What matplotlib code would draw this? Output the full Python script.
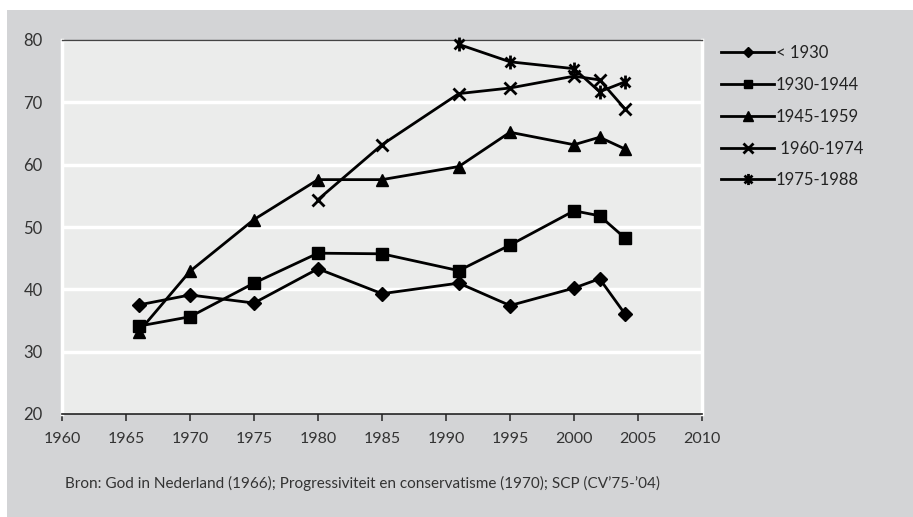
import numpy as np
import matplotlib.pyplot as plt
from matplotlib.patches import Rectangle
from matplotlib.path import Path

years = [1966, 1970, 1975, 1980, 1985, 1991, 1995, 2000, 2002, 2004]
nan = np.nan

voor_1930 = [37.5, 39.1, 37.8, 43.3, 39.3, 41.0, 37.4, 40.2, 41.7, 36.0]
c1930_1944 = [34.1, 35.6, 41.0, 45.8, 45.7, 43.0, 47.1, 52.6, 51.8, 48.2]
c1945_1959 = [33.2, 42.9, 51.2, 57.6, 57.6, 59.7, 65.2, 63.2, 64.4, 62.5]
c1960_1974 = [nan, nan, nan, 54.4, 63.2, 71.4, 72.3, 74.2, 73.6, 68.9]
c1975_1988 = [nan, nan, nan, nan, nan, 79.3, 76.5, 75.4, 71.7, 73.3]

labels = ["< 1930", "1930-1944", "1945-1959", " 1960-1974", "1975-1988"]
bron = "Bron: God in Nederland (1966); Progressiviteit en conservatisme (1970); SCP (CV\u201975-\u201904)"

# x plus vertical bar, like the excel star marker
star = Path([(-1, -1), (1, 1), (-1, 1), (1, -1), (0, -1.4), (0, 1.4)],
            [Path.MOVETO, Path.LINETO, Path.MOVETO, Path.LINETO, Path.MOVETO, Path.LINETO])

plt.rcParams['font.family'] = ['Lato', 'DejaVu Sans']

fig = plt.figure(figsize=(9.13, 5.17), dpi=100, facecolor='white')
fig.patches.append(Rectangle((7 / 913, 0), 1, 1 - 10 / 517, transform=fig.transFigure,
                             facecolor='#d3d4d6', edgecolor='none', zorder=-10))

ax = fig.add_axes([62 / 913, 103 / 517, 640 / 913, 374 / 517])
ax.set_facecolor('#ebeceb')

series = [voor_1930, c1930_1944, c1945_1959, c1960_1974, c1975_1988]
markers = ['D', 's', '^', 'x', star]
sizes = [7, 8, 9, 9, 10]
for vals, m, s, lab in zip(series, markers, sizes, labels):
    ax.plot(years, vals, color='black', lw=2, marker=m, markersize=s, mew=2 if m in ('x', star) else 1,
            label=lab, clip_on=False, zorder=3)

ax.set_xlim(1960, 2010)
ax.set_ylim(20, 80)
ax.set_xticks(range(1960, 2011, 5))
ax.set_yticks(range(20, 81, 10))
ax.yaxis.grid(True, color='white', lw=2.5)
ax.set_axisbelow(True)
ax.spines['top'].set_color('#444444')
ax.spines['top'].set_linewidth(1)
ax.spines['left'].set_color('white')
ax.spines['left'].set_linewidth(2.5)
ax.spines['right'].set_color('white')
ax.spines['right'].set_linewidth(2.5)
ax.spines['bottom'].set_color('#222222')
ax.spines['bottom'].set_linewidth(1.2)
ax.tick_params(axis='y', length=0, pad=14, labelsize=12, colors='#333333')
ax.tick_params(axis='x', length=5, width=1.2, direction='out', pad=8, labelsize=11.5, colors='#333333')

leg = ax.legend(loc='upper left', bbox_to_anchor=(721 / 913, 1 - 45 / 517), bbox_transform=fig.transFigure,
                frameon=False, fontsize=12, handlelength=3.2, handletextpad=0.1, labelspacing=0.95,
                borderpad=0, borderaxespad=0, markerscale=0.8)
for t in leg.get_texts():
    t.set_color('#222222')

fig.text(65 / 913, 1 - 483 / 517, bron, fontsize=11, color='#333333', va='center')

fig.savefig('out.png', dpi=100, facecolor=fig.get_facecolor())
